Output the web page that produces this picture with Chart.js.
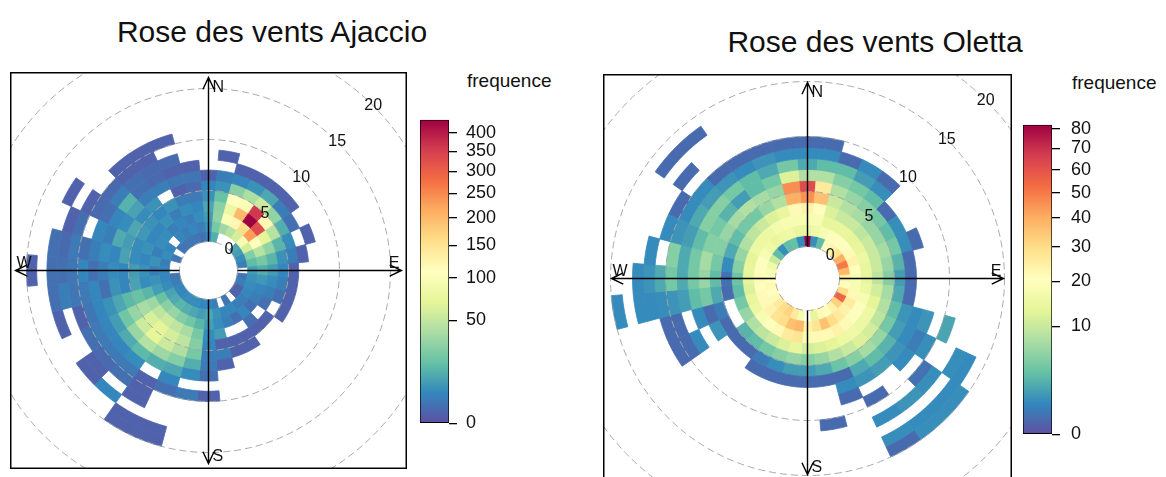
<!DOCTYPE html>
<html>
<head>
<meta charset="utf-8">
<title>Roses des vents</title>
<script src="https://cdn.jsdelivr.net/npm/chart.js@4.4.1/dist/chart.umd.min.js"></script>
<style>
  html, body { margin: 0; padding: 0; background: #fff; }
  body { width: 1166px; height: 477px; overflow: hidden; position: relative;
         font-family: "Liberation Sans", Arial, sans-serif; color: #111; }
  .title { position: absolute; font-size: 30px; white-space: nowrap; transform: translate(-50%, -50%); }
  .keytitle { position: absolute; font-size: 19px; white-space: nowrap; }
  .holder { position: absolute; }
</style>
</head>
<body>
<div class="title" style="left:272px; top:32px;">Rose des vents Ajaccio</div>
<div class="title" style="left:875px; top:42px;">Rose des vents Oletta</div>
<div class="keytitle" style="left:467px; top:70px;">frequence</div>
<div class="keytitle" style="left:1072px; top:72px;">frequence</div>

<div class="holder" style="left:10px; top:72px;"><canvas id="roseAjaccio" width="397" height="397"></canvas></div>
<div class="holder" style="left:603px; top:74px;"><canvas id="roseOletta" width="409" height="409"></canvas></div>
<div class="holder" style="left:419px; top:100px;"><canvas id="keyAjaccio" width="100" height="343"></canvas></div>
<div class="holder" style="left:1022px; top:103px;"><canvas id="keyOletta" width="100" height="353"></canvas></div>

<script>
// Wind direction bins (degrees, bin centres, 10° wide)
const directions = [0, 10, 20, 30, 40, 50, 60, 70, 80, 90, 100, 110, 120, 130, 140, 150, 160, 170,
                    180, 190, 200, 210, 220, 230, 240, 250, 260, 270, 280, 290, 300, 310, 320, 330, 340, 350];

// Wind speed bins (lower bound of each 1-unit bin)
const ajaccioSpeeds = [0, 1, 2, 3, 4, 5, 6, 7, 8, 9, 10, 11, 12, 13, 14, 15];
const olettaSpeeds  = [0, 1, 2, 3, 4, 5, 6, 7, 8, 9, 10, 11, 12, 13, 14];

// Frequencies: one row per direction bin, one entry per speed bin (missing = none)
const ajaccioFreq = [
  [4, 6, 8, 10, 6, 4, 0.5],                                   //   0
  [12, 22, 30, 28, 18, 6, 3, 0, 0.5],                         //  10
  [0, 35, 100, 80, 110, 28, 4, 0.5],                          //  20
  [0, 45, 120, 200, 100, 40, 6, 0.5],                         //  30
  [0, 60, 160, 436, 360, 55, 10, 0.5],                        //  40
  [10, 95, 230, 330, 120, 30, 3, 0.5],                        //  50
  [8, 60, 110, 70, 45, 12, 1.5],                              //  60
  [5, 25, 45, 30, 14, 5, 0, 0.5],                             //  70
  [3, 16, 22, 14, 6, 3, 0.5],                                 //  80
  [0, 8, 12, 8, 4, 0.5],                                      //  90
  [2, 6, 7, 5, 3, 0.5],                                       // 100
  [3, 5, 4, 3, 1.5, 0.5],                                     // 110
  [0.5, 4, 3, 1.5, 0, 0.5],                                   // 120
  [0.5, 3, 1.5, 0, 0.5],                                      // 130
  [0, 3, 4, 1.5, 0.5],                                        // 140
  [2, 4, 1.5, 0, 0.5, 0.5],                                   // 150
  [0, 4, 3, 0, 0.5, 0.5],                                     // 160
  [3, 6, 5, 8, 0.5, 3, 0.5],                                  // 170
  [4, 10, 8, 5, 4, 3, 2.5, 1.5, 0, 0.5],                      // 180
  [4, 8, 14, 22, 26, 22, 12, 5, 0, 2.5],                      // 190
  [5, 10, 20, 38, 48, 42, 26, 10, 4, 1.5, 0, 0, 0, 0.5, 0.5], // 200
  [5, 12, 26, 48, 60, 55, 34, 12, 0, 0.5, 0.5, 0.5, 0, 0.5, 0.5], // 210
  [5, 14, 32, 55, 70, 72, 44, 15, 5, 2.5, 1.5, 0, 4],         // 220
  [4, 11, 28, 48, 62, 56, 33, 11, 4, 2.5, 1, 0.5, 0.5],       // 230
  [4, 9, 18, 34, 38, 32, 20, 8, 4, 2.5, 1.5],                 // 240
  [3, 5, 8, 14, 18, 15, 10, 6, 4, 2, 0.5, 0, 0.5],            // 250
  [2, 4, 6, 5, 9, 4, 6, 1.5, 4, 2.5, 2, 3, 1.5],              // 260
  [0, 4, 3, 6, 8, 4, 5, 3, 1.5, 4, 2, 1.5, 1.5, 0, 0.5],      // 270
  [0, 3, 6, 4, 5, 9, 4, 5, 3, 1.5, 2.5, 1, 1.5],              // 280
  [2, 5, 3, 6, 5, 8, 11, 3, 4, 0, 1.5, 0.5],                  // 290
  [0, 4, 5, 4, 7, 10, 5, 4, 1.5, 1, 0.5, 0, 0.5],             // 300
  [2, 0, 5, 4, 6, 5, 9, 13, 3, 1],                            // 310
  [2, 4, 3, 6, 4, 6, 3, 1.5, 1.5, 0.5, 0.5],                  // 320
  [2, 3, 4, 3, 6, 0, 3, 1, 1, 0.5, 0.5],                      // 330
  [2, 4, 3, 5, 3, 0.5, 2, 0.5, 1, 0, 0.5],                    // 340
  [1.5, 3, 5, 4, 2.5, 1, 2, 0.5]                              // 350
];

const olettaFreq = [
  [82, 14, 18, 24, 45, 62, 8, 2, 0.9, 0.2],                   //   0
  [1, 16, 18, 20, 36, 26, 8, 3, 0.9, 0.2],                    //  10
  [3, 18, 14, 12, 10, 8, 5, 3, 0.2],                          //  20
  [20, 20, 14, 10, 8, 6, 4, 1.5, 0.9],                        //  30
  [24, 20, 14, 10, 7, 5, 3, 1, 0.2],                          //  40
  [28, 20, 13, 9, 6, 4, 0.2],                                 //  50
  [40, 22, 14, 10, 6, 3, 1],                                  //  60
  [50, 24, 15, 10, 7, 4, 1, 0.2],                             //  70
  [38, 20, 14, 10, 6, 2.5, 0.2],                              //  80
  [24, 18, 14, 9, 5, 1.5, 0.2],                               //  90
  [20, 18, 15, 11, 7, 2, 0.2],                                // 100
  [30, 22, 18, 13, 8, 3, 1.2, 0.9, 1.2, 0, 1.8],              // 110
  [55, 26, 20, 15, 9, 4, 1.5, 0.9, 0.5, 1, 0, 0, 1, 0.9],     // 120
  [32, 24, 20, 15, 11, 6, 2.5, 1.2, 0.9, 0, 0.3, 1, 0, 0.9, 1], // 130
  [24, 26, 22, 16, 12, 7, 3, 1.5, 0, 0, 0, 1.2, 0, 0.9, 1],   // 140
  [20, 30, 24, 15, 10, 5, 2, 1.2, 0, 0.2, 0, 0.9, 0, 1, 0.2], // 150
  [22, 36, 22, 13, 8, 3.5, 0.2, 0.9, 0.2],                    // 160
  [14, 28, 22, 12, 6, 2, 0.2, 0, 0, 0, 0.2],                  // 170
  [0, 24, 18, 11, 5, 1.5, 0.2],                               // 180
  [18, 38, 28, 14, 6, 1.5, 0.2],                              // 190
  [26, 36, 26, 12, 5, 1, 0.2],                                // 200
  [32, 30, 22, 10, 4, 0.5, 0.2],                              // 210
  [30, 28, 20, 9, 3, 0.2],                                    // 220
  [26, 24, 18, 8, 2.5, 0.2],                                  // 230
  [22, 22, 15, 6, 0, 0.2, 1.2, 0, 0.9, 0.2, 0.2],             // 240
  [20, 22, 14, 4, 0, 0.5, 0.2, 0.9, 0, 0.2, 0.2],             // 250
  [22, 20, 12, 3, 0.2, 2, 4, 3, 1.5, 1.2, 1, 0.9, 0.9, 0, 0.9], // 260
  [20, 22, 13, 3.5, 0.3, 3, 6, 4, 2, 4, 2, 1.2, 0.9],         // 270
  [18, 20, 14, 5, 0.9, 4, 7, 4, 2, 5, 0, 0.9],                // 280
  [16, 20, 13, 6, 2, 5, 5, 3, 1.5, 1.2, 0.9],                 // 290
  [10, 18, 15, 8, 3, 6, 4, 5, 2, 0.9, 0.2],                   // 300
  [3, 16, 15, 9, 4, 7, 2.5, 5, 1.5, 0.9, 0, 0.2, 0, 0.2],     // 310
  [1, 14, 15, 10, 4, 8, 1.5, 4, 1.2, 0.2, 0, 0, 0, 0.2],      // 320
  [3, 15, 17, 12, 6, 7, 3, 3, 0.9, 0.2],                      // 330
  [3.3, 16, 18, 14, 8, 6, 4, 2, 1.2, 0.2],                    // 340
  [0.9, 14, 18, 22, 40, 46, 12, 4, 0.9, 0.2]                  // 350
];

// Colour key tick labels
const ajaccioKeyTicks = [0, 50, 100, 150, 200, 250, 300, 350, 400];
const olettaKeyTicks  = [0, 10, 20, 30, 40, 50, 60, 70, 80];

// Speed rings and labels
const gridSpeeds = [0, 5, 10, 15, 20, 25];
const ringLabelSpeeds = [0, 5, 10, 15, 20];

// Reversed "Spectral" palette, low to high
const spectral = ['#5E4FA2', '#3288BD', '#66C2A5', '#ABDDA4', '#E6F598', '#FFFFBF',
                  '#FEE08B', '#FDAE61', '#F46D43', '#D53E4F', '#9E0142'];

function hexToRgb(h) {
  const n = parseInt(h.slice(1), 16);
  return [(n >> 16) & 255, (n >> 8) & 255, n & 255];
}
const spectralRgb = spectral.map(hexToRgb);

function paletteAt(t) {
  t = Math.max(0, Math.min(1, t));
  const x = t * (spectralRgb.length - 1);
  const i = Math.min(Math.floor(x), spectralRgb.length - 2);
  const f = x - i;
  const a = spectralRgb[i], b = spectralRgb[i + 1];
  const c = a.map((v, k) => Math.round(v + (b[k] - v) * f));
  return `rgb(${c[0]},${c[1]},${c[2]})`;
}

const FONT = '"Liberation Sans", Arial, sans-serif';

// Grid rings, compass arms, ring labels and frame on top of the cells
const roseDecor = {
  id: 'roseDecor',
  afterDatasetsDraw(chart, _args, opts) {
    const { ctx, chartArea: a } = chart;
    const ctrl = chart.getDatasetMeta(chart.data.datasets.length - 1).controller;
    const hole = ctrl.innerRadius;
    const step = ctrl.outerRadius - ctrl.innerRadius;
    const cx = (a.left + a.right) / 2, cy = (a.top + a.bottom) / 2;
    const rad = ws => hole + ws * step;

    ctx.save();
    ctx.beginPath();
    ctx.rect(a.left, a.top, a.width, a.height);
    ctx.clip();

    ctx.lineWidth = 1;
    ctx.strokeStyle = 'rgba(165,165,165,0.95)';
    ctx.setLineDash([7, 4]);
    gridSpeeds.forEach(ws => {
      ctx.beginPath();
      ctx.arc(cx, cy, rad(ws), 0, Math.PI * 2);
      ctx.stroke();
    });
    ctx.setLineDash([]);

    const arm = Math.min(a.width, a.height) / 2 - opts.armInset;
    const headLen = 13, headAng = 0.44;
    ctx.strokeStyle = '#000';
    ctx.lineWidth = 1.4;
    [[0, -1], [1, 0], [0, 1], [-1, 0]].forEach(([dx, dy]) => {
      const tx = cx + dx * arm, ty = cy + dy * arm;
      ctx.beginPath();
      ctx.moveTo(cx + dx * hole, cy + dy * hole);
      ctx.lineTo(tx, ty);
      const back = Math.atan2(-dy, -dx);
      ctx.moveTo(tx + headLen * Math.cos(back + headAng), ty + headLen * Math.sin(back + headAng));
      ctx.lineTo(tx, ty);
      ctx.lineTo(tx + headLen * Math.cos(back - headAng), ty + headLen * Math.sin(back - headAng));
      ctx.stroke();
    });

    ctx.fillStyle = '#111';
    ctx.font = `16px ${FONT}`;
    ctx.textBaseline = 'middle';
    ctx.textAlign = 'left';
    ctx.fillText('N', cx + 4, cy - arm + 10);
    ctx.fillText('S', cx + 4, cy + arm - 7);
    ctx.textBaseline = 'alphabetic';
    ctx.fillText('W', cx - arm + 1, cy - 3);
    ctx.textAlign = 'right';
    ctx.fillText('E', cx + arm - 2, cy - 3);

    ctx.textAlign = 'center';
    ctx.textBaseline = 'middle';
    ringLabelSpeeds.forEach(ws => {
      const r = rad(ws);
      ctx.fillText(String(ws), cx + r * Math.SQRT1_2, cy - r * Math.SQRT1_2);
    });

    ctx.lineWidth = 1.5;
    ctx.strokeStyle = '#000';
    ctx.strokeRect(a.left + 0.75, a.top + 0.75, a.width - 1.5, a.height - 1.5);
    ctx.restore();
  }
};

function maxOf(rows) {
  return Math.max(...rows.map(r => Math.max(...r)));
}

function roseChart(id, freq, speeds, hole, step, armInset) {
  const top = Math.sqrt(maxOf(freq));
  const outer = hole + speeds.length * step;
  // one doughnut ring per speed bin; Chart.js draws dataset 0 outermost
  const datasets = speeds.map((ws, k) => {
    const colours = freq.map(row => {
      const v = row[k] || 0;
      return v > 0 ? paletteAt(Math.sqrt(v) / top) : 'rgba(0,0,0,0)';
    });
    return {
      label: `${ws}-${ws + 1}`,
      data: directions.map(() => 10),
      backgroundColor: colours,
      borderColor: colours,
      borderWidth: 0.8
    };
  }).reverse();

  return new Chart(document.getElementById(id), {
    type: 'doughnut',
    data: { labels: directions.map(d => `${d}°`), datasets },
    options: {
      responsive: false,
      animation: false,
      events: [],
      radius: outer,
      cutout: (hole / outer * 100) + '%',
      rotation: -5,
      circumference: 360,
      layout: { padding: 0 },
      plugins: {
        legend: { display: false },
        tooltip: { enabled: false },
        roseDecor: { armInset }
      }
    },
    plugins: [roseDecor]
  });
}

function keyChart(id, freq, ticks, labelPad) {
  const top = Math.sqrt(maxOf(freq));
  return new Chart(document.getElementById(id), {
    type: 'bar',
    data: {
      labels: ['frequence'],
      datasets: [{
        data: [[0, top]],
        backgroundColor: (c) => {
          const { chart } = c;
          if (!chart.chartArea) return 'rgba(0,0,0,0)';
          const y = chart.scales.y;
          const g = chart.ctx.createLinearGradient(0, y.getPixelForValue(0), 0, y.getPixelForValue(top));
          spectral.forEach((col, i) => g.addColorStop(i / (spectral.length - 1), col));
          return g;
        },
        borderColor: '#000',
        borderWidth: 1,
        borderSkipped: false,
        barPercentage: 1,
        categoryPercentage: 1
      }]
    },
    options: {
      responsive: false,
      animation: false,
      events: [],
      layout: { padding: { top: 12, bottom: 14, left: 1, right: 0 } },
      plugins: { legend: { display: false }, tooltip: { enabled: false } },
      scales: {
        x: { display: false },
        y: {
          position: 'right',
          min: 0,
          max: top,
          afterBuildTicks: axis => { axis.ticks = ticks.map(v => ({ value: Math.sqrt(v) })); },
          afterFit: scale => { scale.width = 70; },
          ticks: {
            callback: v => String(Math.round(v * v)),
            font: { size: 18, family: FONT },
            color: '#111',
            padding: labelPad
          },
          grid: { drawOnChartArea: false, drawTicks: true, tickLength: 8, color: '#000', lineWidth: 1.3 },
          border: { display: false }
        }
      }
    }
  });
}

roseChart('roseAjaccio', ajaccioFreq, ajaccioSpeeds, 29, 10.2, 5.5);
roseChart('roseOletta', olettaFreq, olettaSpeeds, 32, 11, 8.5);
keyChart('keyAjaccio', ajaccioFreq, ajaccioKeyTicks, 9);
keyChart('keyOletta', olettaFreq, olettaKeyTicks, 11);
</script>
</body>
</html>
